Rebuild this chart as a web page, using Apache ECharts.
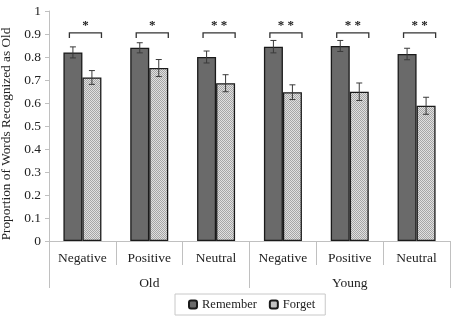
<!DOCTYPE html>
<html>
<head>
<meta charset="utf-8">
<script src="https://cdn.jsdelivr.net/npm/echarts@6/dist/echarts.min.js"></script>
<style>
  html, body { margin: 0; padding: 0; background: #fff; }
  #chart { width: 454px; height: 317px; }
</style>
</head>
<body>
<div id="chart"></div>
<script>
// data
const categories = ['Negative', 'Positive', 'Neutral', 'Negative', 'Positive', 'Neutral'];
const groups = ['Old', 'Young'];
const remember = [0.82, 0.84, 0.80, 0.845, 0.848, 0.813];
const rememberErr = [0.024, 0.022, 0.026, 0.027, 0.024, 0.025];
const forget = [0.711, 0.752, 0.686, 0.647, 0.649, 0.588];
const forgetErr = [0.030, 0.037, 0.037, 0.032, 0.038, 0.037];
const stars = ['*', '*', '* *', '* *', '* *', '* *'];

const serif = '"Liberation Serif", "Times New Roman", serif';

// small checker pattern for the Forget bars
const pat = document.createElement('canvas');
pat.width = 2;
pat.height = 2;
const pctx = pat.getContext('2d');
pctx.fillStyle = '#e0e0e0';
pctx.fillRect(0, 0, 2, 2);
pctx.fillStyle = '#a6a6a6';
pctx.fillRect(0, 0, 1, 1);
pctx.fillRect(1, 1, 1, 1);

const barW = 19;

function errData (vals, errs) {
  return vals.map((v, i) => [i, v - errs[i], v + errs[i]]);
}

function errorBars (shift) {
  return function (params, api) {
    const i = api.value(0);
    const lo = api.coord([i, api.value(1)]);
    const hi = api.coord([i, api.value(2)]);
    const x = lo[0] + shift;
    const st = { stroke: '#3a3a3a', lineWidth: 1 };
    return {
      type: 'group',
      children: [
        { type: 'line', shape: { x1: x, y1: lo[1], x2: x, y2: hi[1] }, style: st },
        { type: 'line', shape: { x1: x - 3, y1: lo[1], x2: x + 3, y2: lo[1] }, style: st },
        { type: 'line', shape: { x1: x - 3, y1: hi[1], x2: x + 3, y2: hi[1] }, style: st }
      ]
    };
  };
}

const chart = echarts.init(document.getElementById('chart'));
chart.setOption({
  animation: false,
  backgroundColor: '#fff',
  grid: { left: 49, right: 4, top: 11, bottom: 76, containLabel: false, outerBoundsMode: 'none' },
  legend: {
    data: ['Remember', 'Forget'],
    left: 175,
    top: 294,
    itemWidth: 8,
    itemHeight: 8,
    itemGap: 12,
    padding: [4, 10, 4, 13],
    borderColor: '#c8c8c8',
    borderWidth: 1,
    textStyle: { fontFamily: serif, fontSize: 12.5, color: '#222' }
  },
  xAxis: [
    {
      type: 'category',
      data: categories,
      axisLine: { show: true, lineStyle: { color: '#c0c0c0' } },
      axisTick: { show: true, interval: 0, length: 24, lineStyle: { color: '#c0c0c0' } },
      axisLabel: { interval: 0, margin: 10, fontFamily: serif, fontSize: 13.5, color: '#222' }
    },
    {
      type: 'category',
      data: groups,
      position: 'bottom',
      axisLine: { show: false },
      axisTick: { show: true, interval: 0, length: 47, lineStyle: { color: '#c0c0c0' } },
      axisLabel: { interval: 0, margin: 35, fontFamily: serif, fontSize: 13.5, color: '#222' }
    }
  ],
  yAxis: {
    type: 'value',
    min: 0,
    max: 1,
    interval: 0.1,
    name: 'Proportion of Words Recognized as Old',
    nameLocation: 'middle',
    nameGap: 34,
    nameTextStyle: { fontFamily: serif, fontSize: 13.3, color: '#222', padding: [0, 16, 0, 0] },
    axisLine: { show: true, lineStyle: { color: '#c0c0c0' } },
    axisTick: { show: true, length: 4, lineStyle: { color: '#c0c0c0' } },
    splitLine: { show: false },
    axisLabel: { margin: 8, fontFamily: serif, fontSize: 13.5, color: '#222' }
  },
  series: [
    {
      name: 'Remember',
      type: 'bar',
      data: remember,
      barWidth: barW,
      barGap: '0%',
      itemStyle: { color: '#6a6a6a', borderColor: '#1a1a1a', borderWidth: 1.3 }
    },
    {
      name: 'Forget',
      type: 'bar',
      data: forget,
      barWidth: barW,
      barGap: '0%',
      itemStyle: { color: { image: pat, repeat: 'repeat' }, borderColor: '#1a1a1a', borderWidth: 1.3 }
    },
    {
      type: 'custom',
      data: errData(remember, rememberErr),
      encode: { x: 0, y: [1, 2] },
      renderItem: errorBars(-barW / 2),
      z: 5
    },
    {
      type: 'custom',
      data: errData(forget, forgetErr),
      encode: { x: 0, y: [1, 2] },
      renderItem: errorBars(barW / 2),
      z: 5
    },
    {
      // significance brackets
      type: 'custom',
      data: stars.map((s, i) => [i, 0.905, 0.883, 0.935]),
      encode: { x: 0, y: 1 },
      renderItem: function (params, api) {
        const i = api.value(0);
        const band = api.size([1, 0])[0];
        const top = api.coord([i, api.value(1)]);
        const leg = api.coord([i, api.value(2)]);
        const txt = api.coord([i, api.value(3)]);
        const cx = top[0] + band * 0.045;
        const hw = band * 0.24;
        return {
          type: 'group',
          children: [
            {
              type: 'polyline',
              shape: { points: [[cx - hw, leg[1]], [cx - hw, top[1]], [cx + hw, top[1]], [cx + hw, leg[1]]] },
              style: { stroke: '#333', lineWidth: 1.3, fill: null }
            },
            {
              type: 'text',
              x: cx,
              y: txt[1],
              style: {
                text: stars[params.dataIndex],
                fontFamily: serif,
                fontSize: 13,
                fontWeight: 'bold',
                fill: '#222',
                align: 'center',
                verticalAlign: 'middle'
              }
            }
          ]
        };
      }
    }
  ]
});
</script>
</body>
</html>
